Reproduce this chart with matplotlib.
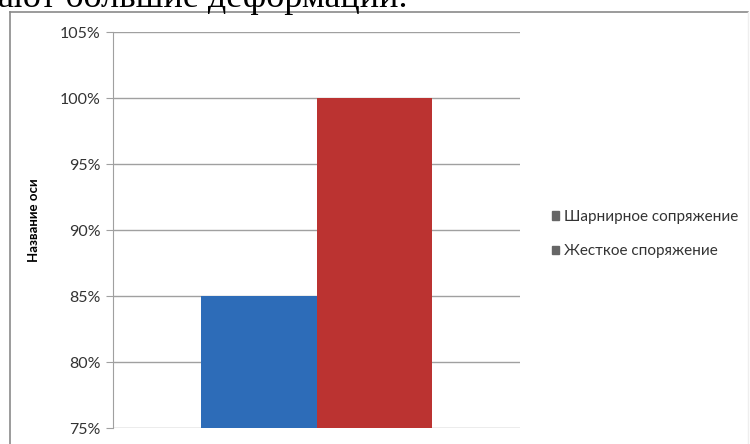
import matplotlib.pyplot as plt
import matplotlib.patches as mpatches
from matplotlib.lines import Line2D
from matplotlib.ticker import FuncFormatter

# data
series = ["Шарнирное сопряжение", "Жесткое споряжение"]
values = [85, 100]
colors = ["#2d6cb8", "#bb3331"]
yticks = [75, 80, 85, 90, 95, 100, 105]

W, H = 750, 444
fig = plt.figure(figsize=(W / 100, H / 100), dpi=100)

# text from the document above the chart (cut off at the top, as in the source)
fig.text(-2 / W, 1 - 7 / H, "ают большие деформации.", family="Liberation Serif",
         fontsize=26, va="baseline", ha="left")

# chart frame
fig.add_artist(Line2D([10 / W, 10 / W], [0, 1 - 12 / H], transform=fig.transFigure,
                      color="#8a8a8a", lw=1.2))
fig.add_artist(Line2D([10 / W, 748 / W], [1 - 12 / H, 1 - 12 / H], transform=fig.transFigure,
                      color="#8a8a8a", lw=1.2))
fig.add_artist(Line2D([748 / W, 748 / W], [0, 1 - 12 / H], transform=fig.transFigure,
                      color="#eeeeee", lw=1))

ax = fig.add_axes([113 / W, 1 - 428 / H, (520 - 113) / W, (428 - 32) / H])

width = 0.285
x = [-width / 2, width / 2]
for xi, v, c, lab in zip(x, values, colors, series):
    ax.bar(xi, v - 75, width=width, bottom=75, color=c, label=lab, zorder=3)

ax.set_xlim(-0.5, 0.5)
ax.set_ylim(75, 105)
ax.set_yticks(yticks)
ax.yaxis.set_major_formatter(FuncFormatter(lambda v, p: "%d%%" % v))
ax.set_xticks([])
ax.grid(axis="y", color="#a0a0a0", lw=1, zorder=0)
for s in ["top", "right", "bottom"]:
    ax.spines[s].set_visible(False)
ax.spines["left"].set_color("#a0a0a0")
ax.tick_params(axis="y", length=5, color="#a0a0a0", labelsize=11.5, labelcolor="#333333", pad=4)
for t in ax.get_yticklabels():
    t.set_family("Lato")
ax.set_ylabel("Название оси", family="Lato", fontweight="bold", fontsize=9.5)
ax.yaxis.set_label_coords(-0.18, 0.525)

handles = [mpatches.Patch(color="#666666", label=s) for s in series]
fig.legend(handles=handles, loc="center left", bbox_to_anchor=(538 / W, 1 - 234 / H),
           frameon=False, prop={"family": "Lato", "size": 11}, handlelength=0.5,
           handleheight=0.5, handletextpad=0.3, labelspacing=1.35, labelcolor="#333333")

fig.savefig("out.png", dpi=100)
